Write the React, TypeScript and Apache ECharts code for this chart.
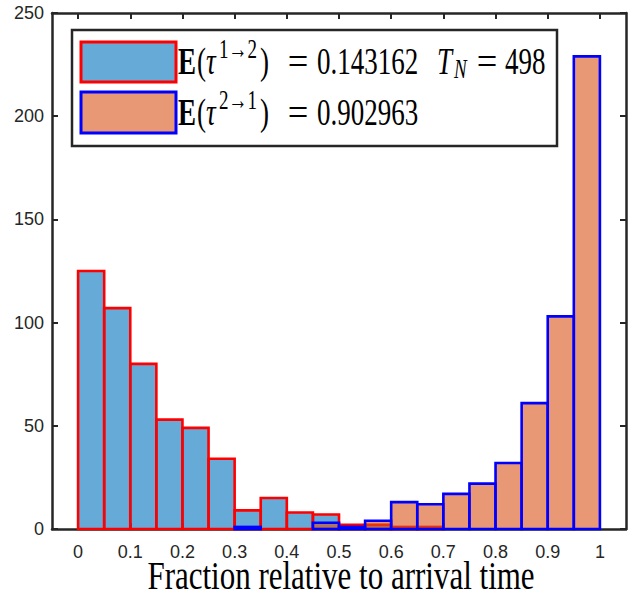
import React, { useEffect, useRef } from 'react';
import * as echarts from 'echarts';

// Histogram bin edges (20 bins of width 0.05)
const binEdges = [0, 0.05, 0.1, 0.15, 0.2, 0.25, 0.3, 0.35, 0.4, 0.45, 0.5, 0.55, 0.6, 0.65, 0.7, 0.75, 0.8, 0.85, 0.9, 0.95, 1];
// Counts, transition 1 -> 2 (blue fill, red edge)
const counts12 = [125, 107, 80, 53, 49, 34, 9, 15, 8, 7, 2, 2, 1, 1, 0, 0, 0, 0, 0, 0];
// Counts, transition 2 -> 1 (orange fill, blue edge)
const counts21 = [0, 0, 0, 0, 0, 0, 1, 0, 0, 3, 1, 4, 13, 12, 17, 22, 32, 61, 103, 229];

const xTicks = [0, 0.1, 0.2, 0.3, 0.4, 0.5, 0.6, 0.7, 0.8, 0.9, 1];
const xTickLabels = ['0', '0.1', '0.2', '0.3', '0.4', '0.5', '0.6', '0.7', '0.8', '0.9', '1'];

const mean12 = '0.143162';
const mean21 = '0.902963';
const tN = '498';
const xTitle = 'Fraction relative to arrival time';

const serif = '"Liberation Serif", "Times New Roman", serif';
const sans = '"Liberation Sans", Arial, Helvetica, sans-serif';
const axisColor = '#262626';
const STRETCH = 1.42;

function histData(counts: number[]) {
  return counts
    .map((c, i) => [binEdges[i], binEdges[i + 1], c])
    .filter((d) => d[2] > 0);
}

function makeRender(fill: string, stroke: string) {
  return (params: any, api: any) => {
    const p0 = api.coord([api.value(0), 0]);
    const p1 = api.coord([api.value(1), api.value(2)]);
    return {
      type: 'rect',
      shape: { x: p0[0], y: p1[1], width: p1[0] - p0[0], height: p0[1] - p1[1] },
      style: { fill, stroke, lineWidth: 2.6 },
    };
  };
}

function piece(text: string, x: number, baseline: number, fs: number, opts: any = {}) {
  return {
    type: 'text',
    x,
    y: baseline - 0.3375 * fs * STRETCH,
    scaleY: STRETCH,
    scaleX: opts.scaleX || 1,
    z: 101,
    style: {
      text,
      fontSize: fs,
      fontFamily: serif,
      fontWeight: opts.bold ? 'bold' : 'normal',
      fontStyle: opts.italic ? 'italic' : 'normal',
      fill: '#000',
      align: opts.align || 'left',
      verticalAlign: 'middle',
    },
  };
}

function legendLine(baseline: number, sup: string, value: string) {
  return [
    piece('E', 178, baseline, 27, { bold: true }),
    piece('(', 197, baseline, 27),
    piece('τ', 206, baseline, 27, { italic: true }),
    piece(sup, 219, baseline - 16, 19),
    piece(')', 260, baseline, 27),
    piece('=', 298, baseline, 27, { align: 'center', scaleX: 1.35 }),
    piece(value, 317, baseline, 27),
  ];
}

export default function App() {
  const ref = useRef<HTMLDivElement>(null);
  useEffect(() => {
    if (!ref.current) return;
    const chart = echarts.init(ref.current, null, { renderer: 'svg' });
    const axisLine = { show: true, onZero: false, lineStyle: { color: axisColor, width: 2.5 } };
    const tick = { show: true, inside: true, length: 6, lineStyle: { color: axisColor, width: 2 } };
    const B1 = 74;
    const B2 = 125;
    chart.setOption({
      animation: false,
      backgroundColor: '#fff',
      grid: { left: 52, right: 10, top: 13, bottom: 71, containLabel: false, outerBoundsMode: 'none' },
      xAxis: [
        {
          type: 'value', min: -0.05, max: 1.05, position: 'bottom',
          axisLine,
          axisTick: { ...tick, customValues: xTicks },
          axisLabel: {
            customValues: xTicks,
            formatter: (v: number) => {
              const i = xTicks.findIndex((t) => Math.abs(t - v) < 1e-9);
              return i >= 0 ? xTickLabels[i] : '';
            },
            fontSize: 18, fontFamily: sans, color: axisColor, margin: 14,
          },
          splitLine: { show: false },
        },
        {
          type: 'value', min: -0.05, max: 1.05, position: 'top',
          axisLine,
          axisTick: { ...tick, customValues: xTicks },
          axisLabel: { show: false },
          splitLine: { show: false },
        },
      ],
      yAxis: [
        {
          type: 'value', min: 0, max: 250, interval: 50, position: 'left',
          axisLine, axisTick: tick,
          axisLabel: { fontSize: 18, fontFamily: sans, color: axisColor, margin: 8 },
          splitLine: { show: false },
        },
        {
          type: 'value', min: 0, max: 250, interval: 50, position: 'right',
          axisLine, axisTick: tick,
          axisLabel: { show: false },
          splitLine: { show: false },
        },
      ],
      series: [
        {
          type: 'custom', name: 'E(τ1→2)', xAxisIndex: 0, yAxisIndex: 0,
          renderItem: makeRender('rgba(0,114,189,0.6)', '#FF0000'),
          encode: { x: [0, 1], y: 2 },
          data: histData(counts12),
          z: 2,
        },
        {
          type: 'custom', name: 'E(τ2→1)', xAxisIndex: 0, yAxisIndex: 0,
          renderItem: makeRender('rgba(217,83,25,0.6)', '#0000FF'),
          encode: { x: [0, 1], y: 2 },
          data: histData(counts21),
          z: 3,
        },
      ],
      graphic: [
        {
          type: 'rect', z: 100,
          shape: { x: 72, y: 30, width: 485, height: 116 },
          style: { fill: '#fff', stroke: axisColor, lineWidth: 2.5 },
        },
        {
          type: 'rect', z: 101,
          shape: { x: 81, y: 42, width: 95, height: 40 },
          style: { fill: 'rgba(0,114,189,0.6)', stroke: '#FF0000', lineWidth: 3 },
        },
        {
          type: 'rect', z: 101,
          shape: { x: 81, y: 92, width: 95, height: 41 },
          style: { fill: 'rgba(217,83,25,0.6)', stroke: '#0000FF', lineWidth: 3 },
        },
        ...legendLine(B1, '1→2', mean12),
        piece('T', 437, B1, 27, { italic: true }),
        piece('N', 454, B1 + 4, 19, { italic: true }),
        piece('=', 487, B1, 27, { align: 'center', scaleX: 1.35 }),
        piece(tN, 505, B1, 27),
        ...legendLine(B2, '2→1', mean21),
        {
          type: 'text', x: 341, y: 576, scaleY: 1.3, z: 101,
          style: {
            text: xTitle, fontSize: 31, fontFamily: serif, fill: '#000',
            align: 'center', verticalAlign: 'middle',
          },
        },
      ],
    });
    return () => chart.dispose();
  }, []);
  return <div ref={ref} style={{ position: 'absolute', left: 0, top: 0, width: 636, height: 600 }} />;
}
